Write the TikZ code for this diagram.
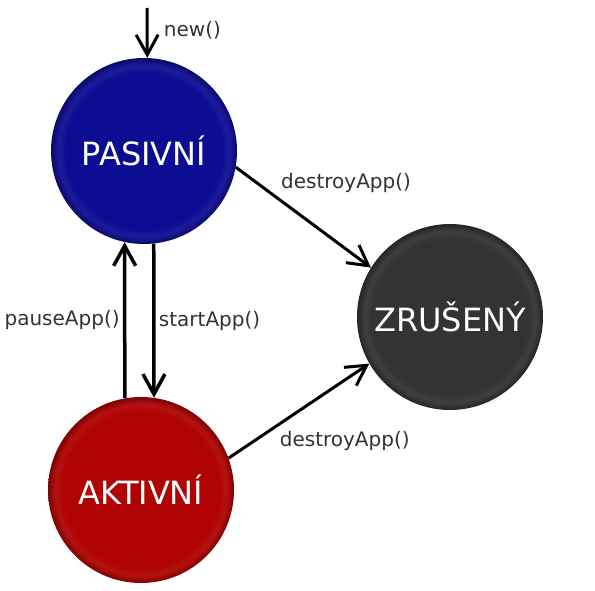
\documentclass[tikz,border=0pt]{standalone}
\usepackage{fontspec}
\setmainfont{DejaVu Sans}
\usetikzlibrary{arrows.meta}
\definecolor{pasblue}{rgb}{0.05,0.05,0.58}
\definecolor{aktred}{rgb}{0.69,0.01,0.01}
\definecolor{zrugray}{rgb}{0.2,0.2,0.2}
\definecolor{lblgray}{rgb}{0.2,0.2,0.2}
\pgfdeclareradialshading{rimblue}{\pgfpoint{0bp}{0bp}}{color(0bp)=(pasblue); color(21bp)=(pasblue); color(23bp)=(pasblue!94!white); color(25bp)=(pasblue!72!black); color(50bp)=(pasblue!72!black)}
\pgfdeclareradialshading{rimred}{\pgfpoint{0bp}{0bp}}{color(0bp)=(aktred); color(21bp)=(aktred); color(23bp)=(aktred!94!white); color(25bp)=(aktred!72!black); color(50bp)=(aktred!72!black)}
\pgfdeclareradialshading{rimgray}{\pgfpoint{0bp}{0bp}}{color(0bp)=(zrugray); color(21bp)=(zrugray); color(23bp)=(zrugray!94!white); color(25bp)=(zrugray!72!black); color(50bp)=(zrugray!72!black)}

\begin{document}
\begin{tikzpicture}[x=1pt, y=1pt,
    state/.style={circle, shade, minimum size=186pt, inner sep=0pt, text=white, font=\fontsize{32}{38}\selectfont},
    trans/.style={line width=3pt, -{Straight Barb[length=20pt,width=22pt]}},
    lbl/.style={color=lblgray, font=\fontsize{20}{24}\selectfont}]
    \useasboundingbox (0,0) rectangle (595,590);
    \node[state, shading=rimblue] (vP) at (144,439) {PASIVNÍ};
    \node[state, shading=rimgray] (vZ) at (450,273) {ZRUŠENÝ};
    \node[state, shading=rimred] (vA) at (141,100) {AKTIVNÍ};
    \coordinate (vS) at (147,582);
    \draw[trans] (vS) -- node[lbl, pos=0.45, right=12pt]{new()} (vP.88);
    \draw[trans, line width=3.5pt] (vA.100) -- node[lbl, midway, left]{pauseApp()} (vP.258);
    \draw[trans, line width=3.5pt] (vP.276) -- node[lbl, midway, right]{startApp()} (vA.82);
    \draw[trans] (vP.350) -- node[lbl, pos=0.3, anchor=south west]{destroyApp()} (vZ.148);
    \draw[trans] (vA.20) -- node[lbl, pos=0.33, anchor=north west]{destroyApp()} (vZ.210);
\end{tikzpicture}
\end{document}
